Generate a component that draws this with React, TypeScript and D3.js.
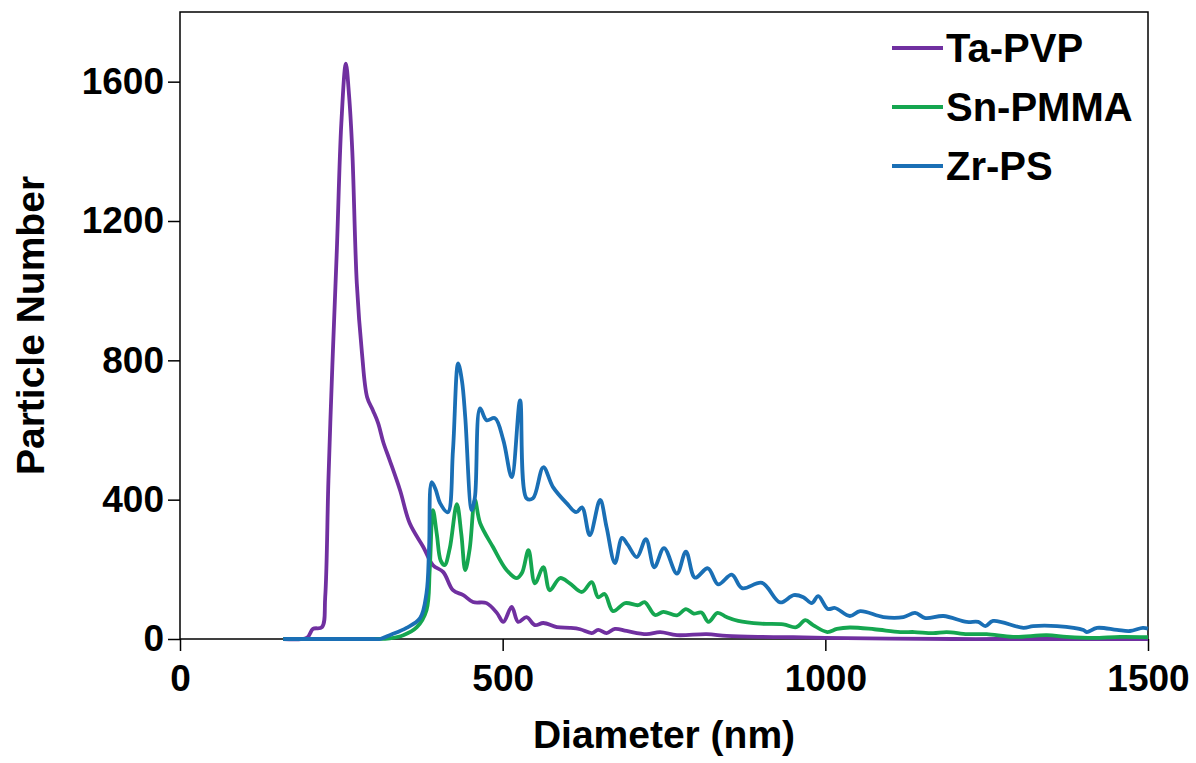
import React, { useEffect, useRef } from 'react';
import * as d3 from 'd3';

// Particle size distributions, [diameter nm, count]
const taPvp: [number, number][] = [
  [160, 0], [197, 4], [206, 29], [220, 34], [225, 120], [230, 456], [236, 780], [243, 1115],
  [250, 1480], [257, 1652], [262, 1560], [267, 1400], [274, 1020], [282, 820], [290, 694],
  [299, 656], [307, 620], [315, 565], [325, 513], [341, 427], [356, 332], [377, 264], [392, 212],
  [408, 192], [423, 140], [439, 126], [454, 106], [475, 103], [491, 75], [501, 49], [514, 92],
  [524, 49], [537, 63], [550, 40], [563, 46], [584, 34], [604, 32], [620, 28], [638, 17],
  [648, 26], [661, 17], [674, 29], [692, 23], [723, 14], [744, 20], [770, 11], [816, 14],
  [847, 9], [900, 6], [950, 5], [1000, 3], [1100, 1], [1200, 0], [1300, 0], [1400, 0], [1500, 0],
];

const snPmma: [number, number][] = [
  [160, 0], [300, 0], [325, 2], [346, 11], [367, 34], [382, 83], [387, 200], [392, 370],
  [398, 300], [404, 225], [410, 212], [418, 260], [429, 387], [436, 300], [442, 198], [449, 260],
  [457, 399], [465, 333], [485, 264], [506, 198], [522, 175], [530, 190], [540, 255], [550, 160],
  [563, 206], [573, 140], [589, 175], [604, 160], [623, 135], [638, 163], [648, 120], [658, 129],
  [671, 80], [690, 103], [710, 97], [720, 106], [736, 69], [749, 78], [770, 68], [784, 86],
  [796, 73], [808, 76], [819, 49], [833, 75], [847, 63], [865, 52], [900, 44], [935, 42],
  [955, 34], [969, 54], [981, 40], [1003, 20], [1018, 29], [1038, 33], [1076, 28], [1116, 20],
  [1138, 20], [1167, 17], [1188, 20], [1220, 14], [1250, 14], [1291, 6], [1343, 11], [1374, 6],
  [1415, 3], [1457, 6], [1500, 5],
];

const zrPs: [number, number][] = [
  [160, 0], [300, 0], [310, 0], [325, 11], [351, 32], [372, 60], [382, 132], [386, 264],
  [390, 450], [396, 430], [403, 390], [415, 364], [423, 542], [431, 791], [437, 740], [442, 637],
  [452, 370], [457, 407], [465, 662], [475, 628], [488, 634], [501, 571], [514, 465], [527, 685],
  [537, 404], [547, 404], [563, 493], [578, 436], [599, 390], [614, 364], [623, 378], [635, 298],
  [651, 399], [661, 321], [674, 218], [685, 290], [694, 270], [708, 235], [722, 287], [735, 206],
  [750, 261], [770, 188], [784, 251], [798, 176], [818, 203], [834, 157], [855, 185], [871, 146],
  [902, 161], [930, 105], [951, 126], [966, 120], [979, 103], [989, 123], [1004, 86], [1015, 89],
  [1038, 66], [1054, 80], [1090, 63], [1121, 63], [1139, 75], [1155, 60], [1183, 66], [1219, 49],
  [1237, 49], [1248, 37], [1260, 52], [1307, 32], [1322, 37], [1359, 37], [1400, 26], [1405, 20],
  [1421, 32], [1452, 26], [1472, 23], [1492, 32], [1500, 30],
];

const seriesNames = ['Ta-PVP', 'Sn-PMMA', 'Zr-PS'];
const seriesData = [taPvp, snPmma, zrPs];
const seriesColors = ['#7030a0', '#15a650', '#1a6fb5'];

const xTicks = [0, 500, 1000, 1500];
const yTicks = [0, 400, 800, 1200, 1600];

const FONT = '"Liberation Sans", Arial, sans-serif';

const App = () => {
  const svgRef = useRef<SVGSVGElement>(null);

  useEffect(() => {
    const width = 1196;
    const height = 763;
    const m = { left: 180, top: 12, right: 48, bottom: 124 };

    const svg = d3.select(svgRef.current);
    svg.selectAll('*').remove();
    svg.attr('width', width).attr('height', height);

    const x = d3.scaleLinear().domain([0, 1500]).range([m.left, width - m.right]);
    const y = d3.scaleLinear().domain([0, 1800]).range([height - m.bottom, m.top]);

    // frame
    svg.append('rect')
      .attr('x', x(0)).attr('y', y(1800))
      .attr('width', x(1500) - x(0)).attr('height', y(0) - y(1800))
      .attr('fill', 'none').attr('stroke', '#000').attr('stroke-width', 1.5);

    const xAxis = svg.append('g')
      .attr('transform', `translate(0,${y(0)})`)
      .call(d3.axisBottom(x).tickValues(xTicks).tickSize(12).tickPadding(14).tickFormat(d3.format('d')));
    const yAxis = svg.append('g')
      .attr('transform', `translate(${x(0)},0)`)
      .call(d3.axisLeft(y).tickValues(yTicks).tickSize(12).tickPadding(4).tickFormat(d3.format('d')));

    [xAxis, yAxis].forEach(ax => {
      ax.select('.domain').remove();
      ax.selectAll('line').attr('stroke', '#000').attr('stroke-width', 1.5);
      ax.selectAll('text')
        .attr('fill', '#000')
        .style('font-family', FONT)
        .style('font-weight', 'bold')
        .style('font-size', '37px');
    });
    xAxis.selectAll('text').attr('dy', '0.71em');

    const line = d3.line<[number, number]>()
      .x(d => x(d[0]))
      .y(d => y(d[1]))
      .curve(d3.curveCatmullRom.alpha(0.5));

    seriesData.forEach((s, i) => {
      svg.append('path')
        .attr('d', line(s))
        .attr('fill', 'none')
        .attr('stroke', seriesColors[i])
        .attr('stroke-width', 3.8)
        .attr('stroke-linejoin', 'round');
    });

    // legend
    const lg = svg.append('g');
    seriesNames.forEach((name, i) => {
      const ly = 48 + i * 59;
      lg.append('line')
        .attr('x1', 892).attr('x2', 943).attr('y1', ly).attr('y2', ly)
        .attr('stroke', seriesColors[i]).attr('stroke-width', 3.8);
      lg.append('text')
        .attr('x', 946).attr('y', ly).attr('dy', '0.36em')
        .style('font-family', FONT).style('font-weight', 'bold').style('font-size', '40px')
        .text(name);
    });

    // axis titles
    svg.append('text')
      .attr('x', (x(0) + x(1500)) / 2).attr('y', 748)
      .attr('text-anchor', 'middle')
      .style('font-family', FONT).style('font-weight', 'bold').style('font-size', '39px')
      .text('Diameter (nm)');
    svg.append('text')
      .attr('transform', `translate(44,${(y(0) + y(1800)) / 2}) rotate(-90)`)
      .attr('text-anchor', 'middle')
      .style('font-family', FONT).style('font-weight', 'bold').style('font-size', '39px')
      .text('Particle Number');
  }, []);

  return (
    <svg ref={svgRef} style={{ position: 'absolute', left: 0, top: 0, background: '#fff' }}></svg>
  );
};

export default App;
